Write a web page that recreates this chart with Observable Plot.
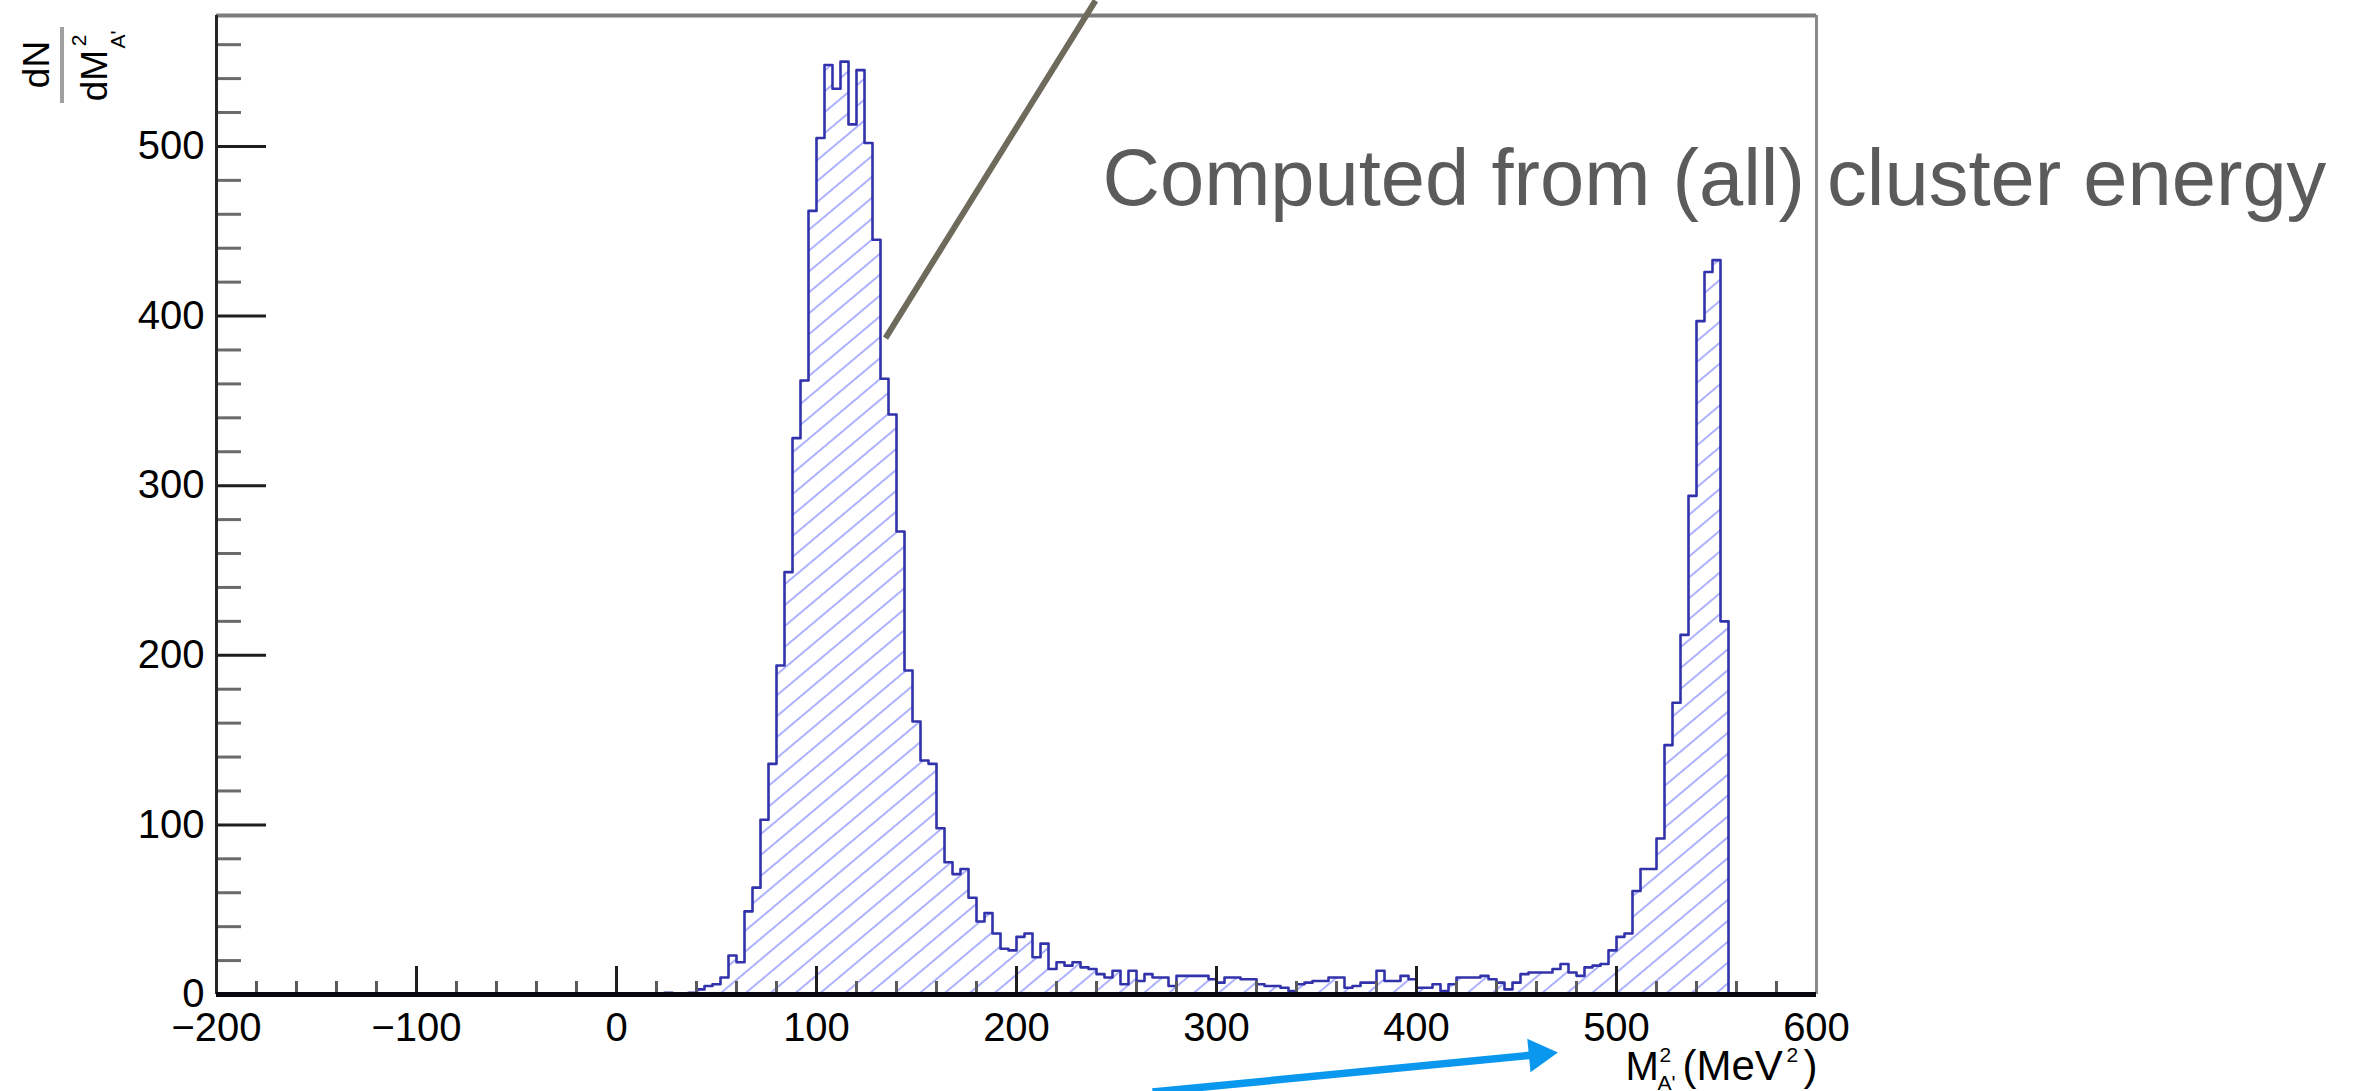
<!DOCTYPE html>
<html><head><meta charset="utf-8">
<script src="https://cdn.jsdelivr.net/npm/d3@7"></script>
<script src="https://cdn.jsdelivr.net/npm/@observablehq/plot@0.6"></script>
<style>
html,body{margin:0;padding:0;background:#fff;}
svg{display:block}
</style></head><body>
<script>
// ---------- data ----------
const binStart = 24;   // left edge (MeV^2) of the first listed bin
const binWidth = 4;    // MeV^2
const counts = [
  1,0,0,1,3,5,6,10,23,19,
  49,63,103,136,194,249,328,362,462,505,
  548,534,550,513,545,502,445,363,342,273,
  191,161,138,136,98,78,71,74,57,43,
  48,36,27,26,34,36,22,30,15,19,
  17,19,16,15,12,10,14,6,14,8,
  12,10,10,5,11,11,11,11,9,7,
  10,10,9,9,6,5,5,4,2,6,
  7,8,8,10,10,4,5,7,7,14,
  8,8,11,9,4,4,6,2,6,10,
  10,10,11,9,7,3,7,12,13,13,
  13,15,18,13,11,16,17,18,26,34,
  36,61,74,74,92,147,172,212,294,397,
  426,433,220
];
const xTickLabels = [-200,-100,0,100,200,300,400,500,600];
const yTickLabels = [0,100,200,300,400,500];
const annotationText = "Computed from (all) cluster energy";
const leaderLine = [{x1: 134.5, y1: 387, x2: 239.5, y2: 586}];      // data units
const blueArrow  = [{x1: 268, y1: -57.5, x2: 468.5, y2: -34.5}];    // data units (tip at x2,y2)

// ---------- layout ----------
const W = 2353, H = 1091;
const xDomain = [-200, 600], yDomain = [0, 577.2];
const mL = 216, mR = 537, mT = 15, mB = 97;
const pxX = (W - mL - mR) / (xDomain[1] - xDomain[0]);
const pxY = (H - mT - mB) / (yDomain[1] - yDomain[0]);
const FONT = "'Liberation Sans', Arial, Helvetica, sans-serif";

const hist = [{x: binStart, y: 0}];
counts.forEach((c, i) => hist.push({x: binStart + i * binWidth, y: c}));
hist.push({x: binStart + counts.length * binWidth, y: 0});

const xMinor = d3.range(xDomain[0], xDomain[1] + 1, 20).filter(v => v % 100 !== 0);
const xMajor = d3.range(xDomain[0], xDomain[1] + 1, 100);
const yMinor = d3.range(0, 561, 20).filter(v => v % 100 !== 0);
const yMajor = d3.range(0, 561, 100);

function lab(txt, px, py, size, opts = {}) {
  return Plot.text([txt], {text: d => d, frameAnchor: "top-left", dx: px - mL, dy: py - mT,
    fontSize: size, fill: "black", textAnchor: "start", lineAnchor: "bottom", ...opts});
}
function rlab(txt, cx, cy, size) {
  return lab(txt, cx, cy, size, {rotate: -90, textAnchor: "middle", lineAnchor: "middle"});
}
const xInv = px => xDomain[0] + (px - mL) / pxX;
const yInv = py => (H - mB - py) / pxY;

// arrow head centre: a little back from the tip along the shaft
const a = blueArrow[0];
const ddx = (a.x2 - a.x1) * pxX, ddy = -(a.y2 - a.y1) * pxY;
const len = Math.hypot(ddx, ddy);
const ang = Math.atan2(ddy, ddx) * 180 / Math.PI;
const head = [{x: a.x2 - (ddx / len) * 15 / pxX, y: a.y2 + (ddy / len) * 15 / pxY}];
const shaft = [{x1: a.x1, y1: a.y1, x2: a.x2 - (ddx / len) * 20 / pxX, y2: a.y2 + (ddy / len) * 20 / pxY}];

const chart = Plot.plot({
  width: W, height: H,
  marginLeft: mL, marginRight: mR, marginTop: mT, marginBottom: mB,
  x: {domain: xDomain},
  y: {domain: yDomain},
  style: {fontFamily: FONT, fontSize: "40px", background: "white", color: "black", overflow: "visible"},
  marks: [
    Plot.areaY(hist, {x: "x", y: "y", curve: "step-after", fill: "url(#hatch)"}),
    Plot.lineY(hist, {x: "x", y: "y", curve: "step-after", stroke: "#3232aa", strokeWidth: 2.6}),
    // ticks (inside the frame)
    Plot.ruleY(yMinor, {x1: xDomain[0], x2: xDomain[0] + 25 / pxX, stroke: "#6a6a6a", strokeWidth: 3}),
    Plot.ruleY(yMajor, {x1: xDomain[0], x2: xDomain[0] + 50 / pxX, stroke: "#1e1e1e", strokeWidth: 3}),
    Plot.ruleX(xMinor, {y1: 0, y2: 13 / pxY, stroke: "#5a5a5a", strokeWidth: 3}),
    Plot.ruleX(xMajor, {y1: 0, y2: 28 / pxY, stroke: "#1e1e1e", strokeWidth: 3}),
    // frame
    Plot.ruleY([yDomain[1]], {stroke: "#7d7d7d", strokeWidth: 4}),
    Plot.ruleX([xDomain[1]], {stroke: "#8a8a8a", strokeWidth: 3}),
    Plot.ruleX([xDomain[0]], {stroke: "#262626", strokeWidth: 3}),
    Plot.ruleY([0], {stroke: "#07070f", strokeWidth: 5}),
    // axes labels
    Plot.axisX({ticks: xTickLabels, tickSize: 0, tickPadding: 18, label: null, fontSize: 40}),
    Plot.axisY({ticks: yTickLabels, tickSize: 0, tickPadding: 12, label: null, fontSize: 40}),
    // x-axis title  M^2_A'(MeV^2)
    lab("M", 1625, 1079, 40),
    lab("2", 1659, 1061, 21),
    lab("A'", 1657, 1089, 21),
    lab("(MeV", 1682, 1079, 42),
    lab("2", 1786, 1061, 21),
    lab(")", 1803, 1079, 42),
    // y-axis title  dN / dM^2_A'
    rlab("dN", 37, 64, 37),
    Plot.ruleX([xInv(61.5)], {y1: yInv(27), y2: yInv(103), stroke: "#a0a0a0", strokeWidth: 4}),
    rlab("dM", 95, 75, 37),
    rlab("2", 79, 40, 21),
    rlab("A'", 118, 39, 21),
    // annotations
    Plot.link(leaderLine, {x1: "x1", y1: "y1", x2: "x2", y2: "y2", stroke: "#6e6a5c", strokeWidth: 6}),
    lab(annotationText, 1102, 204, 79.5, {fill: "#5b5b5b"}),
    Plot.link(shaft, {x1: "x1", y1: "y1", x2: "x2", y2: "y2", stroke: "#0a97ee", strokeWidth: 7.5}),
    Plot.dot(head, {x: "x", y: "y", symbol: "triangle", r: 12.5, fill: "#0a97ee", stroke: null, rotate: 90 + ang})
  ]
});

chart.insertAdjacentHTML("afterbegin",
  `<defs><pattern id="hatch" patternUnits="userSpaceOnUse" width="40" height="16" patternTransform="rotate(-40)">
     <line x1="-5" y1="8" x2="45" y2="8" stroke="#aeb1ff" stroke-width="2"/>
   </pattern></defs>`);
document.body.appendChild(chart);
</script>
</body></html>
